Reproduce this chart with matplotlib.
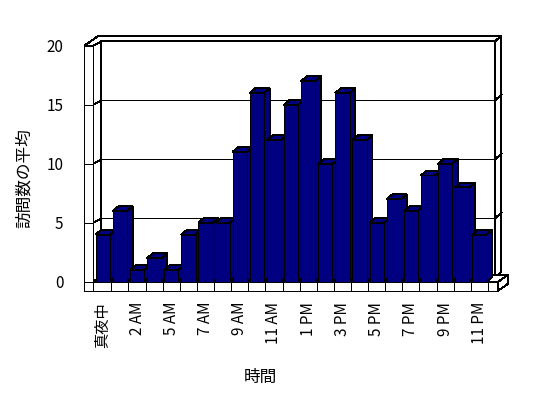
import numpy as np
import matplotlib
matplotlib.use('Agg')
import matplotlib.pyplot as plt
from matplotlib.patches import Polygon

plt.rcParams['font.family'] = ['Noto Sans CJK JP', 'DejaVu Sans']

# data
hours = ['真夜中', '1 AM', '2 AM', '3 AM', '5 AM', '6 AM', '7 AM', '8 AM', '9 AM', '10 AM', '11 AM', '正午',
         '1 PM', '2 PM', '3 PM', '4 PM', '5 PM', '6 PM', '7 PM', '8 PM', '9 PM', '10 PM', '11 PM']
visits = [4, 6, 1, 2, 1, 4, 5, 5, 11, 16, 12, 15, 17, 10, 16, 12, 5, 7, 6, 9, 10, 8, 4]
yticks = [0, 5, 10, 15, 20]

navy = '#000080'
lw = 0.7
n = len(visits)
x = np.arange(n)

# fake 3d geometry (data units)
L0, L1 = -1.08, -0.55        # left wall front face
R_wall = n - 0.55            # right end of back wall (front projection)
R_floor = n + 0.1
F0 = -0.76                   # bottom of floor slab
din = (0.47, 0.38)           # front -> back wall inner face
dout = (0.84, 0.85)          # front -> back wall outer face
bdx, bdy = 0.34, 0.40        # bar depth
w = 0.835
top = yticks[-1]

fig = plt.figure(figsize=(5.48, 3.98), dpi=100)
ax = fig.add_axes([0.1704, 0.2922, 0.7184, 0.5930])
ax.set_xlim(L1, R_wall)
ax.set_ylim(0, top)
for s in ax.spines.values():
    s.set_visible(False)

def poly(pts, z, fc='white'):
    ax.add_patch(Polygon(pts, closed=True, facecolor=fc, edgecolor='black', lw=lw, zorder=z, clip_on=False,
                         joinstyle='miter', antialiased=False))

def line(xs, ys, z):
    ax.plot(xs, ys, color='black', lw=lw, zorder=z, clip_on=False, antialiased=False)

# back wall
poly([(L1 + din[0], din[1]), (R_wall + din[0], din[1]), (R_wall + din[0], top + din[1]), (L1 + din[0], top + din[1])], 1)
poly([(R_wall + din[0], din[1]), (R_wall + dout[0], dout[1]), (R_wall + dout[0], top + dout[1]), (R_wall + din[0], top + din[1])], 1)
# top rim of walls
poly([(L0, top), (L1, top), (L1 + din[0], top + din[1]), (R_wall + din[0], top + din[1]),
      (R_wall + dout[0], top + dout[1]), (L0 + dout[0], top + dout[1])], 1)
# left wall
poly([(L1, 0), (L1 + din[0], din[1]), (L1 + din[0], top + din[1]), (L1, top)], 1)
poly([(L0, F0), (L1, F0), (L1, top), (L0, top)], 2)

# grid lines (diagonals on the walls, straight part on back wall)
for v in yticks[1:-1]:
    line([L1, L1 + din[0]], [v, v + din[1]], 1.5)
    line([L1 + din[0], R_wall + din[0]], [v + din[1], v + din[1]], 1.5)
    line([R_wall + din[0], R_wall + dout[0]], [v + din[1], v + dout[1]], 1.5)
for v in yticks:
    line([L0, L1], [v, v], 2.5)

# floor
poly([(L1, 0), (R_floor, 0), (R_floor + dout[0] * 0.7, dout[1] * 0.7), (L1 + dout[0], dout[1])], 1.2)
poly([(L1, F0), (R_floor, F0), (R_floor, 0), (L1, 0)], 2)
poly([(R_floor, F0), (R_floor + dout[0] * 0.7, F0 + dout[1] * 0.7), (R_floor + dout[0] * 0.7, dout[1] * 0.7), (R_floor, 0)], 2)
for k in range(n):
    line([k + 0.5, k + 0.5], [F0, 0], 2.5)

# bars, left to right so each front hides the previous side
for i, v in enumerate(visits):
    z = 5 + i
    xl, xr = i - w / 2, i + w / 2
    poly([(xr, 0), (xr + bdx, bdy), (xr + bdx, v + bdy), (xr, v)], z, navy)
    poly([(xl, v), (xr, v), (xr + bdx, v + bdy), (xl + bdx, v + bdy)], z, navy)
    ax.bar(i, v, width=w, color=navy, edgecolor='black', lw=lw, zorder=z + 0.5, antialiased=False)

ax.set_yticks(yticks)
ax.set_yticklabels([str(t) for t in yticks])
ax.set_xticks(x[::2])
ax.set_xticklabels(hours[::2], rotation=90, va='top', ha='center')
ax.tick_params(axis='y', length=0, pad=21.5, labelsize=11)
ax.tick_params(axis='x', length=0, pad=14.5, labelsize=11)

ax.set_ylabel('訪問数の平均', fontsize=12)
ax.yaxis.set_label_coords(-0.153, 0.439)
ax.set_xlabel('時間', fontsize=12)
ax.xaxis.set_label_coords(0.423, -0.37)

fig.savefig('out.png', dpi=100)
